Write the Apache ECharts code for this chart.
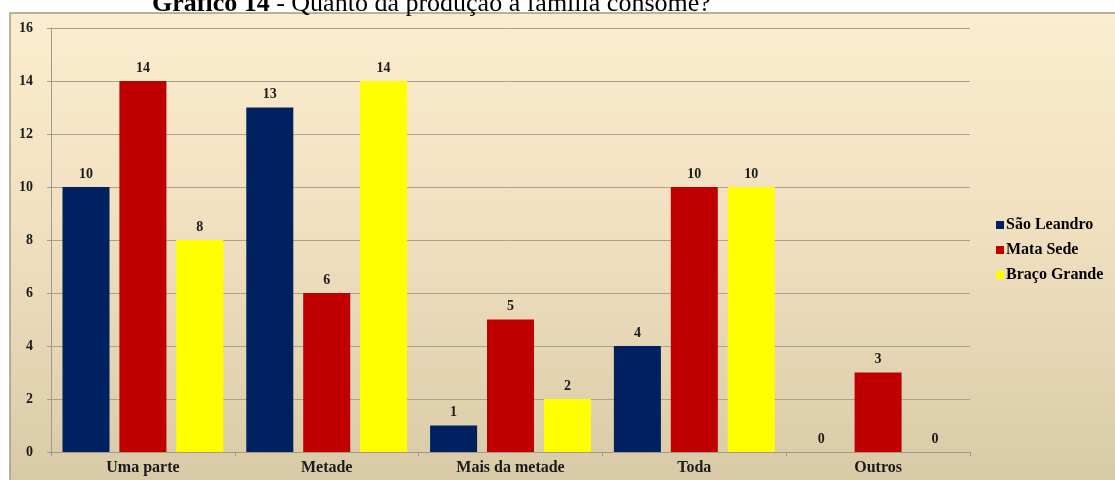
<!DOCTYPE html>
<html>
<head>
<meta charset="utf-8">
<script src="https://cdn.jsdelivr.net/npm/echarts@6/dist/echarts.min.js"></script>
<style>
    html, body { margin: 0; padding: 0; background: #fff; }
    #main { width: 1115px; height: 480px; }
</style>
</head>
<body>
<div id="main"></div>
<script>
    // dados do gráfico
    var categorias = ['Uma parte', 'Metade', 'Mais da metade', 'Toda', 'Outros'];
    var saoLeandro = [10, 13, 1, 4, 0];
    var mataSede = [14, 6, 5, 10, 3];
    var bracoGrande = [8, 14, 2, 10, 0];
    var ticksY = [0, 2, 4, 6, 8, 10, 12, 14, 16];

    var fonte = '"Liberation Serif", "Times New Roman", serif';
    var chart = echarts.init(document.getElementById('main'));

    function serie(nome, dados, cor) {
        return {
            name: nome,
            type: 'bar',
            data: dados,
            barGap: '21%',
            barCategoryGap: '12.5%',
            itemStyle: { color: cor },
            label: {
                show: true,
                position: 'top',
                distance: 6,
                color: '#1a1a1a',
                fontFamily: fonte,
                fontWeight: 'bold',
                fontSize: 14
            }
        };
    }

    var option = {
        animation: false,
        graphic: [{
            type: 'rect',
            z: -10,
            shape: { x: 10, y: 13, width: 1120, height: 480 },
            style: {
                stroke: '#a39a86',
                lineWidth: 1.5,
                fill: new echarts.graphic.LinearGradient(0, 0, 0, 1, [
                    { offset: 0, color: '#fdedd0' },
                    { offset: 0.45, color: '#f0e0c0' },
                    { offset: 1, color: '#d8c9a6' }
                ])
            }
        }],
        title: {
            text: '{b|Gráfico 14} - Quanto da produção a família consome?',
            left: 147,
            top: -14,
            textStyle: {
                fontFamily: fonte,
                fontSize: 26,
                fontWeight: 'normal',
                color: '#000',
                rich: {
                    b: { fontFamily: fonte, fontSize: 26, fontWeight: 'bold', color: '#000' }
                }
            }
        },
        legend: {
            orient: 'vertical',
            left: 991,
            top: 212,
            itemWidth: 8,
            itemHeight: 8,
            itemGap: 9,
            icon: 'rect',
            textStyle: {
                fontFamily: fonte,
                fontWeight: 'bold',
                fontSize: 16,
                color: '#000',
                padding: [0, 0, 0, -3]
            }
        },
        grid: { left: 51, right: 145, top: 28, bottom: 28 },
        xAxis: {
            type: 'category',
            data: categorias,
            axisLine: { lineStyle: { color: '#9f9a8c', width: 1 } },
            axisTick: { show: true, length: 4, lineStyle: { color: '#9f9a8c' } },
            axisLabel: {
                margin: 8,
                fontFamily: fonte,
                fontWeight: 'bold',
                fontSize: 16,
                color: '#1a1a1a'
            }
        },
        yAxis: {
            type: 'value',
            min: ticksY[0],
            max: ticksY[ticksY.length - 1],
            interval: 2,
            axisLine: { show: true, lineStyle: { color: '#9f9a8c', width: 1 } },
            axisTick: { show: true, length: 4, lineStyle: { color: '#9f9a8c' } },
            splitLine: { lineStyle: { color: '#a9a28f', width: 1 } },
            axisLabel: {
                margin: 18,
                fontFamily: fonte,
                fontWeight: 'bold',
                fontSize: 14,
                color: '#1a1a1a'
            }
        },
        series: [
            serie('São Leandro', saoLeandro, '#002060'),
            serie('Mata Sede', mataSede, '#c00000'),
            serie('Braço Grande', bracoGrande, '#ffff00')
        ]
    };
    chart.setOption(option);
</script>
</body>
</html>
